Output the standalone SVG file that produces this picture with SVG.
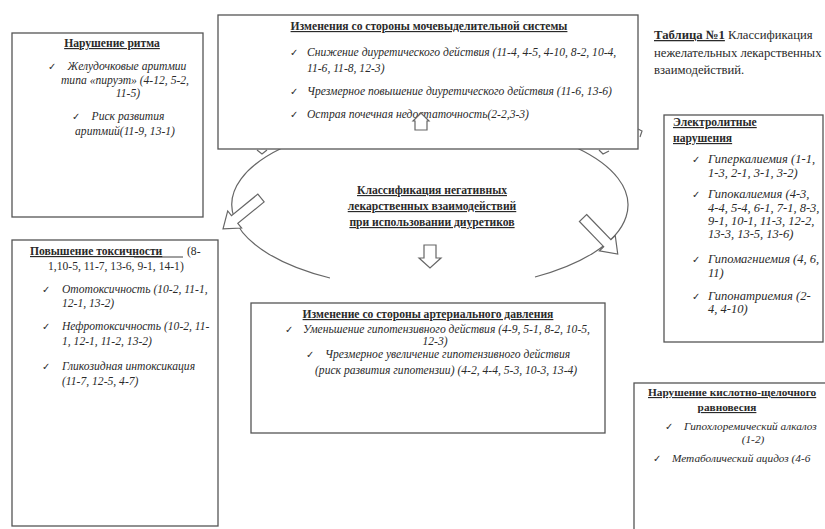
<svg xmlns="http://www.w3.org/2000/svg" width="825" height="529" viewBox="0 0 825 529">
<style>
.box{fill:#fff;stroke:#555;stroke-width:1.3}
.t{font-family:"Liberation Serif","Times New Roman",serif;font-size:11.6px;fill:#2a2a2a}
.h{font-weight:bold;text-decoration:underline}
.i{font-style:italic}
.c{text-anchor:middle}
.ck{font-family:"DejaVu Sans",sans-serif;font-size:10px;fill:#2a2a2a}
.ln{fill:none;stroke:#666;stroke-width:1.2}
.arr{fill:#fff;stroke:#666;stroke-width:1.2;stroke-linejoin:miter}
.big{font-size:12.5px}
.sm{font-size:11.3px}
</style>
<rect width="825" height="529" fill="#fff"/>

<g id="connectors">
  <path class="ln" d="M282,148 A198,85 0 0 0 330,278"/>
  <path class="ln" d="M577,148 A198,85 0 0 1 535,277"/>
</g>

<g id="node-rhythm">
  <rect class="box" x="12" y="33" width="191" height="184"/>
  <text class="t h c" x="112" y="47">Нарушение ритма</text>
  <text class="ck" x="48" y="70">✓</text>
  <text class="t i c" x="127" y="70">Желудочковые аритмии</text>
  <text class="t i c" x="125" y="84">типа «пируэт» (4-12, 5-2,</text>
  <text class="t i c" x="128" y="97">11-5)</text>
  <text class="ck" x="72" y="120">✓</text>
  <text class="t i c" x="128" y="120">Риск развития</text>
  <text class="t i c" x="125" y="135">аритмий(11-9, 13-1)</text>
</g>

<g id="node-urinary">
  <rect class="box" x="218" y="15" width="420" height="134"/>
  <text class="t h c" x="429" y="30">Изменения со стороны мочевыделительной системы</text>
  <text class="ck" x="290" y="56">✓</text>
  <text class="t i" x="307" y="56">Снижение диуретического действия (11-4, 4-5, 4-10, 8-2, 10-4,</text>
  <text class="t i" x="307" y="72">11-6, 11-8, 12-3)</text>
  <text class="ck" x="290" y="95">✓</text>
  <text class="t i" x="307" y="95">Чрезмерное повышение диуретического действия (11-6, 13-6)</text>
  <text class="ck" x="290" y="118">✓</text>
  <text class="t i" x="307" y="118">Острая почечная недостаточность(2-2,3-3)</text>
  <polygon class="arr" points="415,130 415,121 413,121 421,113 429,121 427,121 427,130"/>
</g>

<g id="node-title">
  <text class="t" style="font-size:12.7px" x="654" y="39"><tspan class="h">Таблица №1</tspan> Классификация</text>
  <text class="t" style="font-size:12.7px" x="654" y="57">нежелательных лекарственных</text>
  <text class="t" style="font-size:12.7px" x="654" y="74">взаимодействий.</text>
</g>

<g id="node-electrolyte">
  <rect class="box" x="664" y="115" width="159" height="227"/>
  <text class="t h" x="673" y="126">Электролитные</text>
  <text class="t h" x="673" y="142">нарушения</text>
  <text class="ck" x="692" y="163">✓</text>
  <text class="t i big" x="708" y="163">Гиперкалиемия (1-1,</text>
  <text class="t i big" x="708" y="177">1-3, 2-1, 3-1, 3-2)</text>
  <text class="ck" x="692" y="198">✓</text>
  <text class="t i big" x="708" y="198">Гипокалиемия (4-3,</text>
  <text class="t i big" x="708" y="212">4-4, 5-4, 6-1, 7-1, 8-3,</text>
  <text class="t i big" x="708" y="225">9-1, 10-1, 11-3, 12-2,</text>
  <text class="t i big" x="708" y="238">13-3, 13-5, 13-6)</text>
  <text class="ck" x="692" y="263">✓</text>
  <text class="t i big" x="708" y="263">Гипомагниемия (4, 6,</text>
  <text class="t i big" x="708" y="277">11)</text>
  <text class="ck" x="692" y="300">✓</text>
  <text class="t i big" x="708" y="300">Гипонатриемия (2-</text>
  <text class="t i big" x="708" y="313">4, 4-10)</text>
</g>

<g id="node-center">
  <text class="t h c" x="432" y="194">Классификация негативных</text>
  <text class="t h c" x="432" y="210">лекарственных взаимодействий</text>
  <text class="t h c" x="432" y="226">при использовании диуретиков</text>
</g>

<g id="node-toxicity">
  <rect class="box" x="12" y="240" width="206" height="286"/>
  <text class="t h" x="30" y="255">Повышение токсичности</text>
  <line x1="134" y1="257" x2="183" y2="257" stroke="#2a2a2a" stroke-width="0.9"/>
  <text class="t" x="187" y="255">(8-</text>
  <text class="t" x="48" y="270">1,10-5, 11-7, 13-6, 9-1, 14-1)</text>
  <text class="ck" x="42" y="293">✓</text>
  <text class="t i" x="62" y="293">Ототоксичность (10-2, 11-1,</text>
  <text class="t i" x="62" y="307">12-1, 13-2)</text>
  <text class="ck" x="42" y="330">✓</text>
  <text class="t i" x="62" y="330">Нефротоксичность (10-2, 11-</text>
  <text class="t i" x="62" y="345">1, 12-1, 11-2, 13-2)</text>
  <text class="ck" x="42" y="370">✓</text>
  <text class="t i" x="62" y="370">Гликозидная интоксикация</text>
  <text class="t i" x="62" y="385">(11-7, 12-5, 4-7)</text>
</g>

<g id="node-pressure">
  <rect class="box" x="251" y="303" width="354" height="130"/>
  <text class="t h c" x="428" y="318">Изменение со стороны артериального давления</text>
  <text class="ck" x="285" y="333">✓</text>
  <text class="t i" x="303" y="333">Уменьшение гипотензивного действия (4-9, 5-1, 8-2, 10-5,</text>
  <text class="t i c" x="435" y="345">12-3)</text>
  <text class="ck" x="306" y="358">✓</text>
  <text class="t i" x="325" y="358">Чрезмерное увеличение гипотензивного действия</text>
  <text class="t i" x="315" y="374">(риск развития гипотензии) (4-2, 4-4, 5-3, 10-3, 13-4)</text>
</g>

<g id="node-acidbase">
  <rect class="box" x="634" y="383" width="200" height="160"/>
  <text class="t h sm" x="648" y="396">Нарушение кислотно-щелочного</text>
  <text class="t h c sm" x="727" y="411">равновесия</text>
  <text class="ck" x="665" y="430">✓</text>
  <text class="t i sm" x="684" y="430">Гипохлоремический алкалоз</text>
  <text class="t i c sm" x="753" y="443">(1-2)</text>
  <text class="ck" x="653" y="462">✓</text>
  <text class="t i sm" x="672" y="462">Метаболический ацидоз (4-6</text>
</g>

<g id="arrows">
  <polygon class="arr" transform="translate(261,198) rotate(140.8)" points="0,-5 34,-5 34,-11 49,0 34,11 34,5 0,5"/>
  <polygon class="arr" transform="translate(583,218) rotate(46)" points="0,-5 35,-5 35,-11 50,0 35,11 35,5 0,5"/>
  <polygon class="arr" points="424,245 436,245 436,258 441,258 430,268 419,258 424,258"/>
  <polyline class="ln" points="257,150 262,154 267,150"/>
  <polyline class="ln" points="599,150 603,154 609,151"/>
  <polyline class="ln" points="638,129 642,131 640,137"/>
</g>
</svg>
